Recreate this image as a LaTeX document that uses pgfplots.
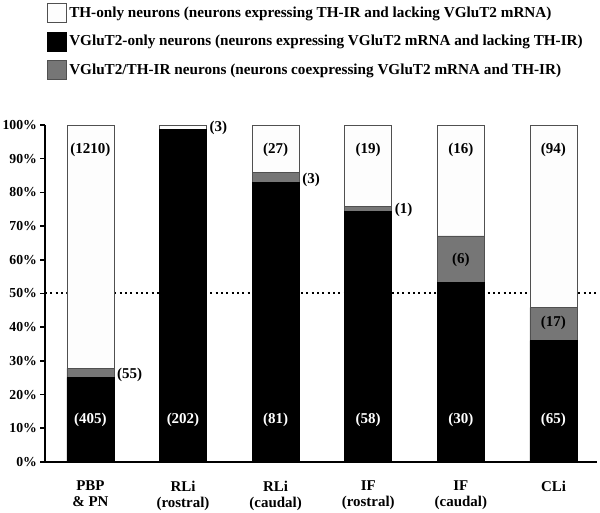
\documentclass[border=0pt]{standalone}
\usepackage{fontspec}
\setmainfont{Liberation Serif}
\usepackage{pgfplots}
\pgfplotsset{compat=1.18}
\definecolor{graybar}{RGB}{118,118,118}
\definecolor{whitebar}{RGB}{253,253,253}
\definecolor{edge}{RGB}{80,80,80}
\tikzset{cnt/.style={font=\fontsize{11.25}{13}\selectfont\bfseries}}
\begin{document}
\begin{tikzpicture}
\useasboundingbox (-33.75pt,-38.25pt) rectangle (416.25pt,346.5pt);
\begin{axis}[
 at={(0,0)}, anchor=south west,
 scale only axis, width=414pt, height=252.75pt,
 xmin=-0.49, xmax=5.47, ymin=0, ymax=100,
 clip=false,
 axis x line*=bottom, axis y line*=left,
 axis line style={line width=1.4pt, -},
 ybar stacked, bar width=0.507,
 xtick={0,1,2,3,4,5},
 xticklabels={{PBP\\\& PN},{RLi\\(rostral)},{RLi\\(caudal)},{IF\\(rostral)},{IF\\(caudal)},{CLi}},
 x tick style={draw=none},
 xticklabel style={align=center, anchor=north, font=\fontsize{11.2}{12}\selectfont\bfseries, yshift=-7pt},
 ytick={0,10,20,30,40,50,60,70,80,90,100},
 yticklabels={0\%,10\%,20\%,30\%,40\%,50\%,60\%,70\%,80\%,90\%,100\%},
 yticklabel style={font=\fontsize{10.3}{12}\selectfont\bfseries, xshift=1pt},
 y tick style={line width=1.2pt, black},
 tick align=outside, major tick length=3.5pt,
 extra y ticks={50}, extra y tick labels={},
 extra y tick style={grid=major, major tick length=0pt},
 major grid style={line width=1.5pt, dash pattern=on 1.5pt off 2.5pt, black},
 legend style={at={(0.0036,1.362)}, anchor=north west, draw=none, fill=none, inner sep=0pt, row sep=6.5pt,
   font=\fontsize{11.4}{13}\selectfont\bfseries, cells={anchor=west}, nodes={inner sep=1.5pt}},
 legend cell align=left,
 legend image code/.code={\draw[#1] (0pt,-7.1pt) rectangle (14.4pt,7.1pt);},
 after end axis/.code={
  \node[cnt] at (axis cs:0,92.6) {(1210)};
  \node[cnt] at (axis cs:2,92.6) {(27)};
  \node[cnt] at (axis cs:3,92.6) {(19)};
  \node[cnt] at (axis cs:4,92.6) {(16)};
  \node[cnt] at (axis cs:5,92.6) {(94)};
  \node[cnt,text=white] at (axis cs:0,12.5) {(405)};
  \node[cnt,text=white] at (axis cs:1,12.5) {(202)};
  \node[cnt,text=white] at (axis cs:2,12.5) {(81)};
  \node[cnt,text=white] at (axis cs:3,12.5) {(58)};
  \node[cnt,text=white] at (axis cs:4,12.5) {(30)};
  \node[cnt,text=white] at (axis cs:5,12.5) {(65)};
  \node[cnt] at (axis cs:4,60.1) {(6)};
  \node[cnt] at (axis cs:5,41.2) {(17)};
  \node[cnt, anchor=west, inner sep=0pt] at (axis cs:0.285,25.8) {(55)};
  \node[cnt, anchor=west, inner sep=0pt] at (axis cs:1.285,99.0) {(3)};
  \node[cnt, anchor=west, inner sep=0pt] at (axis cs:2.285,83.7) {(3)};
  \node[cnt, anchor=west, inner sep=0pt] at (axis cs:3.285,74.8) {(1)};
 },
]
\addlegendimage{fill=whitebar, draw=edge, line width=0.6pt}
\addlegendentry{TH-only neurons (neurons expressing TH-IR and lacking VGluT2 mRNA)}
\addlegendimage{fill=black, draw=black, line width=0.6pt}
\addlegendentry{VGluT2-only neurons (neurons expressing VGluT2 mRNA and lacking TH-IR)}
\addlegendimage{fill=graybar, draw=edge, line width=0.6pt}
\addlegendentry{VGluT2/TH-IR neurons (neurons coexpressing VGluT2 mRNA and TH-IR)}
\addplot[fill=black, draw=black, line width=0.5pt, forget plot] coordinates {(0,25.0) (1,98.8) (2,83.0) (3,74.3) (4,53.2) (5,36.0)};
\addplot[fill=graybar, draw=edge, line width=0.5pt, forget plot] coordinates {(0,2.8) (1,0) (2,3.0) (3,1.5) (4,13.9) (5,9.8)};
\addplot[fill=whitebar, draw=edge, line width=0.5pt, forget plot] coordinates {(0,72.2) (1,1.2) (2,14.0) (3,24.2) (4,32.9) (5,54.2)};
\end{axis}
\end{tikzpicture}
\end{document}
